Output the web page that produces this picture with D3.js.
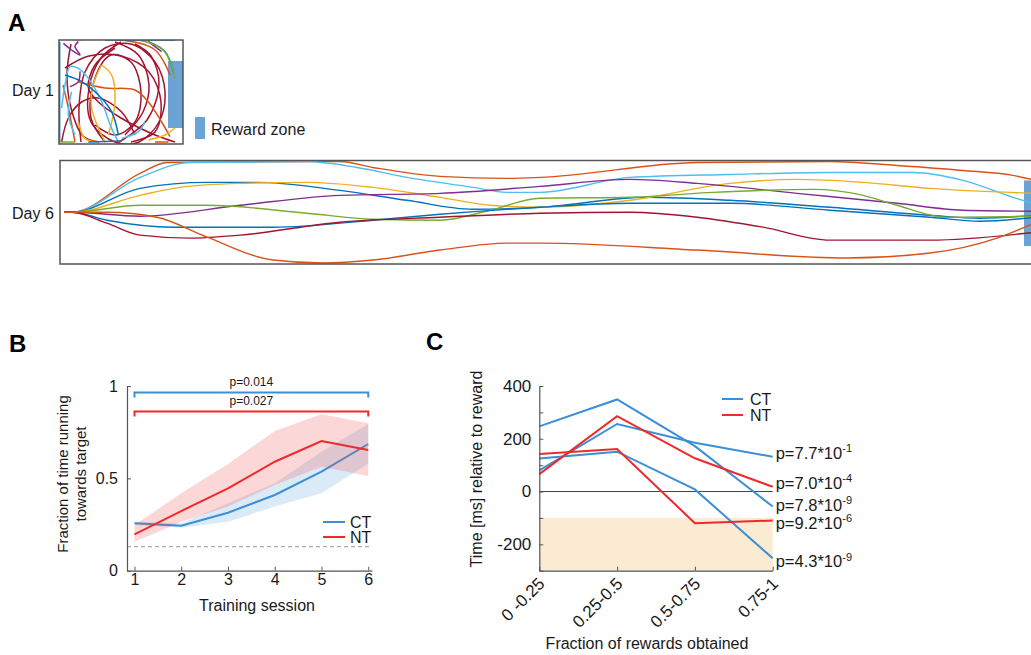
<!DOCTYPE html>
<html>
<head>
<meta charset="utf-8">
<script src="https://cdn.jsdelivr.net/npm/d3@7"></script>
<style>
  body { margin: 0; background: #fff; }
  svg { font-family: "Liberation Sans", Arial, sans-serif; }
</style>
</head>
<body>
<div id="fig"></div>
<script>
// ---------- data ----------
// Panel A: trajectories, arena units (day 1: 62 x 52, day 6 track: 490 x 52), y measured from bottom
const day1Tracks = [
  [[11,1],[10,18],[13,36],[23,48],[36,50],[48,41],[53,26],[50,11],[40,1],[28,1],[16,11],[15,28],[21,43],[31,51]],
  [[3,38],[15,44],[31,44],[45,36],[51,21],[48,6],[36,1]],
  [[23,1],[16,13],[18,33],[26,44.5],[36,41],[41,26],[38,11],[28,4.5],[18,9.5]],
  [[58,1],[48,4.5],[31,13],[19.7,21],[14.7,28],[18,39.5],[28,48]],
  [[1.3,1],[4.7,13],[11.3,21],[19.7,23],[31.3,16],[38,4.5]],
  [[28,51],[39.7,44.5],[45,29.5],[42,16],[33,4.5]],
  [[6,50],[4,35],[6,18],[12,4],[20,1]],
  [[30,1],[44,12],[50,30],[46,44],[38,50]],
  [[9.7,31],[23,28],[38,27],[44.7,21],[51.3,11],[55.5,3.7]],
  [[8,52],[31.3,52],[48,47],[55.5,34.5]],
  [[2,29.5],[4.7,18],[8,1]],
  [[48,1],[54.7,1]],
  [[21.3,39.5],[17,29.5],[16.3,18],[19.7,8],[23,1]],
  [[24.7,4.5],[28,21],[26.3,34.5],[21.3,39.5]],
  [[44.7,2],[53,4.5],[58,8]],
  [[9.7,11],[13,2.8],[19.7,1]],
  [[1.3,18],[3,29.5],[5.5,38.7],[9.7,37.8],[14.7,32.8],[21.3,21.2],[26.3,7.8],[29.7,1.2]],
  [[8,4.5],[4.7,14.5],[6.3,26.2]],
  [[31.3,2.8],[39.7,6.2],[43,11.2]],
  [[3,34.5],[11.3,31.2],[19.7,24.5],[26.3,16.2],[29.7,4.5]],
  [[44.7,51.2],[53,46.2],[57.2,36.2]],
  [[23,52],[58,52]],
  [[14.7,1],[31.3,1.5]],
  [[0.3,51],[0.3,1]],
  [[2.2,50.3],[6.3,47],[10.5,44.5],[8,48.7],[9.7,51.2]],
  [[5.5,28.7],[9.7,31.2],[10.5,36.2]],
  [[44.7,51.2],[51.3,46.2]],
  [[39.7,52],[51.3,47.8],[56.3,39.5],[57.7,32.8]],
  [[0,1],[8,1]]
];
const day1Colors = [
  "#A2142F","#A2142F","#A2142F","#A2142F","#A2142F","#A2142F","#A2142F","#A2142F",
  "#D95319","#D95319","#D95319","#D95319",
  "#EDB120","#EDB120","#EDB120","#EDB120",
  "#4DBEEE","#4DBEEE","#4DBEEE",
  "#0072BD","#0072BD","#0072BD","#0072BD","#0072BD",
  "#7E2F8E","#7E2F8E","#7E2F8E",
  "#77AC30","#77AC30"
];

const day6Tracks = [
  [[2,26],[6,26],[40,45.5],[53.5,51],[140,51.5],[156.5,48.5],[190,44],[223.5,43],[240,43.5],[318.5,51],[385,51.5],[418.5,49.5],[451.5,47],[476.5,44.5],[488,42]],
  [[2,26],[6,26],[40,43.5],[65,51],[123.5,51.5],[148.5,48.5],[173.5,43.5],[206.5,38.5],[223.5,36],[240,36],[285,43.5],[335,45],[385,46],[426.5,46],[451.5,42],[476.5,33.5],[488,30]],
  [[2,26],[6,26],[40,38],[73.5,41],[98.5,41],[140,37],[173.5,32],[206.5,27.5],[240,28.5],[293.5,33.5],[335,32],[385,28.5],[435,24.5],[460,23],[488,24.5]],
  [[2,26],[6,26],[40,34.5],[60,38.5],[90,40.5],[123.5,41],[156.5,38.5],[190,33.5],[215,29.5],[240,28.5],[285,32],[335,40.5],[368.5,42.5],[401.5,41],[435,38],[488,35.5]],
  [[2,26],[6,26],[40,24],[90,29.5],[140,34.5],[190,35.5],[240,39],[285,42.5],[318.5,40.5],[368.5,35.5],[418.5,30.5],[451.5,27],[488,26.5]],
  [[2,26],[6,26],[40,29.5],[73.5,29.5],[123.5,25.5],[156.5,22.5],[190,22],[215,27],[240,33],[285,33.5],[326.5,36],[376.5,37.5],[401.5,34.5],[418.5,29.5],[443.5,23.5],[488,24]],
  [[2,26],[6,26],[23.5,22],[56.5,18.5],[106.5,18.5],[156.5,22],[190,25],[240,28.5],[285,30.5],[335,30.5],[385,27],[435,23.5],[460,21.5],[488,23.5]],
  [[2,26],[6,26],[23.5,20.5],[40,14.5],[65,13],[90,14.5],[140,21],[190,23.5],[240,25.5],[285,26],[318.5,23.5],[351.5,18.5],[385,12],[435,12],[488,16]],
  [[2,26],[6,26],[23.5,26],[48.5,23.5],[73.5,13.5],[106.5,2],[131.5,0.5],[156.5,2],[190,7],[223.5,10.5],[240,10.5],[318.5,7],[393.5,3],[435,5.5],[468.5,13],[488,21]]
];
const day6Colors = ["#D95319","#4DBEEE","#0072BD","#EDB120","#7E2F8E","#77AC30","#0072BD","#A2142F","#D95319"];

const day1Reward = [54.5, 62, 8, 41.5];   // x0, x1, y0, y1
const day6Reward = [482, 490, 9, 42];

// Panel B
const sessions = [1, 2, 3, 4, 5, 6];
const ctMean = [0.257, 0.244, 0.314, 0.410, 0.536, 0.686];
const ctLow  = [0.247, 0.232, 0.265, 0.347, 0.419, 0.581];
const ctHigh = [0.267, 0.256, 0.365, 0.473, 0.644, 0.794];
const ntMean = [0.197, 0.323, 0.446, 0.590, 0.702, 0.653];
const ntLow  = [0.157, 0.265, 0.347, 0.464, 0.563, 0.513];
const ntHigh = [0.247, 0.419, 0.578, 0.756, 0.847, 0.798];
const chanceLevel = 0.13;
const sigLabels = ["p=0.014", "p=0.027"];
const sigLevels = [0.965, 0.862];

// Panel C
const bins = ["0 -0.25", "0.25-0.5", "0.5-0.75", "0.75-1"];
const ctSeries = [[247, 349, 172, -57], [80, 256, 185, 132], [125, 151, 8, -253]];
const ntSeries = [[66, 286, 126, 18], [142, 161, -120, -110]];
const ctPMant = ["7.8", "7.7", "4.3"], ctPExp = ["-9", "-1", "-9"];
const ntPMant = ["7.0", "9.2"], ntPExp = ["-4", "-6"];
const shadeRange = [-300, -100];

// ---------- drawing ----------
const W = 1031, H = 655;
const CT = "#3a8fd6", NT = "#ee2a2a", ZONE = "#6ba3d6", AX = "#555", TXT = "#1a1a1a";

const svg = d3.select("#fig").append("svg").attr("width", W).attr("height", H);

function label(x, y, s, size, anchor, extra) {
  const t = svg.append("text").attr("x", x).attr("y", y).attr("font-size", size)
    .attr("fill", TXT).attr("text-anchor", anchor || "start").text(s);
  if (extra) extra(t);
  return t;
}
const bold = t => t.attr("font-weight", "bold").attr("fill", "#000");

// panel letters
label(8, 31, "A", 24, "start", bold);
label(9, 352, "B", 24, "start", bold);
label(426, 350, "C", 24, "start", bold);

// ----- Panel A -----
const aX = d3.scaleLinear().domain([0, 62]).range([59, 183]);
const aY = d3.scaleLinear().domain([0, 52]).range([144, 40]);
const tX = d3.scaleLinear().domain([0, 490]).range([60, 1040]);
const tY = d3.scaleLinear().domain([0, 52]).range([264, 160.5]);

const defs = svg.append("defs");
defs.append("clipPath").attr("id", "clip1").append("rect")
  .attr("x", aX(0)).attr("y", aY(52)).attr("width", aX(62) - aX(0)).attr("height", aY(0) - aY(52));
defs.append("clipPath").attr("id", "clip6").append("rect")
  .attr("x", tX(0)).attr("y", tY(52)).attr("width", tX(490) - tX(0)).attr("height", tY(0) - tY(52));

// day 1
const g1 = svg.append("g").attr("clip-path", "url(#clip1)");
g1.append("rect").attr("x", aX(day1Reward[0])).attr("width", aX(day1Reward[1]) - aX(day1Reward[0]))
  .attr("y", aY(day1Reward[3])).attr("height", aY(day1Reward[2]) - aY(day1Reward[3])).attr("fill", ZONE);
const line1 = d3.line().x(d => aX(d[0])).y(d => aY(d[1])).curve(d3.curveCatmullRom.alpha(0.5));
g1.selectAll("path.tr").data(day1Tracks).enter().append("path")
  .attr("d", line1).attr("fill", "none").attr("stroke-width", 1.5)
  .attr("stroke", (d, i) => day1Colors[i]);
svg.append("rect").attr("x", aX(0)).attr("y", aY(52)).attr("width", aX(62) - aX(0)).attr("height", aY(0) - aY(52))
  .attr("fill", "none").attr("stroke", AX).attr("stroke-width", 1.5);
label(12, 96, "Day 1", 16);

// reward zone legend
svg.append("rect").attr("x", 195).attr("y", 117).attr("width", 10).attr("height", 22).attr("fill", ZONE);
label(211, 135, "Reward zone", 16);

// day 6
const g6 = svg.append("g").attr("clip-path", "url(#clip6)");
g6.append("rect").attr("x", tX(day6Reward[0])).attr("width", tX(day6Reward[1]) - tX(day6Reward[0]))
  .attr("y", tY(day6Reward[3])).attr("height", tY(day6Reward[2]) - tY(day6Reward[3])).attr("fill", ZONE);
const line6 = d3.line().x(d => tX(d[0])).y(d => tY(d[1])).curve(d3.curveMonotoneX);
g6.selectAll("path.tr").data(day6Tracks).enter().append("path")
  .attr("d", line6).attr("fill", "none").attr("stroke-width", 1.4)
  .attr("stroke", (d, i) => day6Colors[i]);
svg.append("rect").attr("x", tX(0)).attr("y", tY(52)).attr("width", tX(490) - tX(0)).attr("height", tY(0) - tY(52))
  .attr("fill", "none").attr("stroke", AX).attr("stroke-width", 1.5);
label(12, 219, "Day 6", 16);

// ----- Panel B -----
const xB = d3.scaleLinear().domain([0.84, 6.08]).range([127, 372]);
const yB = d3.scaleLinear().domain([0, 1]).range([570.7, 386]);
const gB = svg.append("g");

function band(low, high, color) {
  const area = d3.area().x((d, i) => xB(sessions[i])).y0((d, i) => yB(low[i])).y1((d, i) => yB(high[i]));
  gB.append("path").datum(sessions).attr("d", area).attr("fill", color).attr("fill-opacity", 0.22);
}
function meanLine(vals, color) {
  const ln = d3.line().x((d, i) => xB(sessions[i])).y((d, i) => yB(vals[i]));
  gB.append("path").datum(sessions).attr("d", ln).attr("fill", "none").attr("stroke", color).attr("stroke-width", 2);
}
gB.append("line").attr("x1", xB.range()[0]).attr("x2", xB.range()[1])
  .attr("y1", yB(chanceLevel)).attr("y2", yB(chanceLevel))
  .attr("stroke", "#999").attr("stroke-dasharray", "4,3").attr("stroke-width", 1);
band(ctLow, ctHigh, "#5a9fdc");
meanLine(ctMean, CT);
band(ntLow, ntHigh, "#f04848");
meanLine(ntMean, NT);

// significance bars
[CT, NT].forEach((c, i) => {
  const y = yB(sigLevels[i]), x0 = xB(1), x1 = xB(6);
  gB.append("path").attr("d", `M${x0},${y + 5}V${y}H${x1}V${y + 5}`)
    .attr("fill", "none").attr("stroke", c).attr("stroke-width", 2);
  label((x0 + x1) / 2, y - 6, sigLabels[i], 12, "middle");
});

function styleAxis(g, size) {
  g.select(".domain").attr("stroke", AX).attr("stroke-width", 1.2);
  g.selectAll(".tick line").attr("stroke", AX);
  g.selectAll(".tick text").attr("fill", TXT).attr("font-size", size)
    .attr("font-family", '"Liberation Sans", Arial, sans-serif');
}
svg.append("g").attr("transform", `translate(0,${yB(0)})`)
  .call(d3.axisBottom(xB).tickValues(sessions).tickFormat(d3.format("d")).tickSize(-4).tickSizeOuter(0).tickPadding(3))
  .call(g => styleAxis(g, 16));
svg.append("g").attr("transform", `translate(${xB.range()[0]},0)`)
  .call(d3.axisLeft(yB).tickValues([0, 0.5, 1]).tickFormat(d3.format("")).tickSize(-4).tickSizeOuter(0).tickPadding(9))
  .call(g => styleAxis(g, 16));

label(257, 611, "Training session", 16, "middle");
label(0, 0, "Fraction of time running", 15, "middle", t => t.attr("x", null).attr("y", null)
  .attr("transform", "translate(68,474) rotate(-90)"));
label(0, 0, "towards target", 15, "middle", t => t.attr("x", null).attr("y", null)
  .attr("transform", "translate(86,474) rotate(-90)"));

// legend B
[["CT", CT], ["NT", NT]].forEach((d, i) => {
  const y = 522 + i * 15;
  svg.append("line").attr("x1", 323).attr("x2", 345).attr("y1", y).attr("y2", y).attr("stroke", d[1]).attr("stroke-width", 2);
  label(350, y + 5.5, d[0], 16);
});

// ----- Panel C -----
const xC = d3.scalePoint().domain(bins).range([539.3, 772.7]);
const yC = d3.scaleLinear().domain([-300, 400]).range([570.7, 386]);
const gC = svg.append("g");

gC.append("rect").attr("x", xC(bins[0])).attr("width", xC(bins[3]) - xC(bins[0]))
  .attr("y", yC(shadeRange[1])).attr("height", yC(shadeRange[0]) - yC(shadeRange[1]))
  .attr("fill", "#fbebd2");
gC.append("line").attr("x1", xC(bins[0])).attr("x2", xC(bins[3])).attr("y1", yC(0)).attr("y2", yC(0))
  .attr("stroke", "#444").attr("stroke-width", 1);

const lineC = d3.line().x((d, i) => xC(bins[i])).y(d => yC(d));
gC.selectAll("path.ct").data(ctSeries).enter().append("path")
  .attr("d", lineC).attr("fill", "none").attr("stroke", CT).attr("stroke-width", 2);
gC.selectAll("path.nt").data(ntSeries).enter().append("path")
  .attr("d", lineC).attr("fill", "none").attr("stroke", NT).attr("stroke-width", 2);

svg.append("g").attr("transform", `translate(0,${yC(-300)})`)
  .call(d3.axisBottom(xC).tickSize(-4).tickSizeOuter(0).tickPadding(4))
  .call(g => styleAxis(g, 17))
  .call(g => g.selectAll(".tick text").attr("text-anchor", "end").attr("dy", null).attr("y", null)
    .attr("transform", "translate(6,14) rotate(-45)"));
svg.append("g").attr("transform", `translate(${xC.range()[0]},0)`)
  .call(d3.axisLeft(yC).tickValues(d3.range(-300, 401, 100))
    .tickFormat(d => (d % 200 === 0 ? d : "")).tickSize(-4).tickSizeOuter(0).tickPadding(8))
  .call(g => styleAxis(g, 17))
  .call(g => g.selectAll(".tick text").text(function () { return this.textContent.replace("−", "-"); }));

label(647, 649, "Fraction of rewards obtained", 16, "middle");
label(0, 0, "Time [ms] relative to reward", 16, "middle", t => t.attr("x", null).attr("y", null)
  .attr("transform", "translate(482,469) rotate(-90)"));

// p-value labels next to line ends
const pNudge = { ct: [4, 2, 9], nt: [2, 8] };
function pLabel(series, mant, exps, nudge) {
  series.forEach((s, i) => {
    const t = label(xC(bins[3]) + 3, yC(s[3]) + nudge[i], "p=" + mant[i] + "*10", 16.5);
    t.append("tspan").attr("font-size", 11).attr("dy", -6.5).text(exps[i]);
  });
}
pLabel(ctSeries, ctPMant, ctPExp, pNudge.ct);
pLabel(ntSeries, ntPMant, ntPExp, pNudge.nt);

// legend C
[["CT", CT], ["NT", NT]].forEach((d, i) => {
  const y = 399 + i * 16;
  svg.append("line").attr("x1", 722).attr("x2", 743).attr("y1", y).attr("y2", y).attr("stroke", d[1]).attr("stroke-width", 2);
  label(750, y + 5.5, d[0], 16);
});
</script>
</body>
</html>
